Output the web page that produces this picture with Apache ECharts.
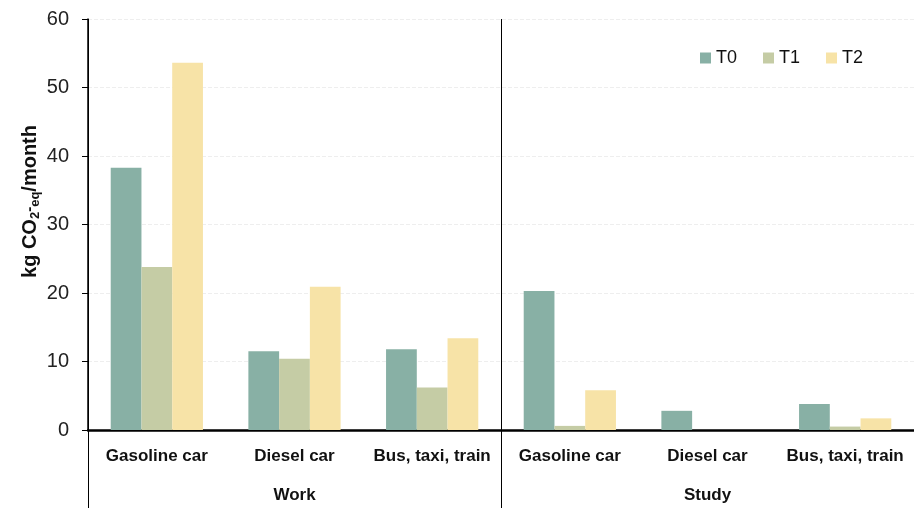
<!DOCTYPE html>
<html><head><meta charset="utf-8">
<script src="https://cdn.jsdelivr.net/npm/echarts@6/dist/echarts.min.js"></script>
<style>html,body{margin:0;padding:0;background:#fff}#c{width:914px;height:508px}</style>
</head><body><div id="c"></div>
<script>
const categories = ['Gasoline car','Diesel car','Bus, taxi, train','Gasoline car','Diesel car','Bus, taxi, train'];
const groups = ['Work','Study'];
const seriesNames = ['T0','T1','T2'];
const t0 = [38.3, 11.5, 11.8, 20.3, 2.8, 3.8];
const t1 = [23.8, 10.4, 6.2, 0.6, 0, 0.5];
const t2 = [53.6, 20.9, 13.4, 5.8, 0, 1.7];
const yTicks = {min: 0, max: 60, interval: 10};
const colors = ['#88b0a5', '#c5cca5', '#f7e3a7'];

const chart = echarts.init(document.getElementById('c'));
const font = 'Arial, "Liberation Sans", sans-serif';
const catFont = '"Liberation Sans Narrow", "Arial Narrow", Arial, sans-serif';
const mk = (name, data, i) => ({
  name, type: 'bar', data, xAxisIndex: 0, barGap: '0%', barCategoryGap: '33%',
  itemStyle: {color: colors[i]},
  animation: false
});
chart.setOption({
  animation: false,
  grid: {left: 88, right: 0, top: 19, bottom: 78},
  legend: {
    data: seriesNames, left: 695, top: 44, itemWidth: 11, itemHeight: 11, itemGap: 26,
    icon: 'rect', textStyle: {fontSize: 18, fontFamily: font, color: '#111'}
  },
  xAxis: [
    {type: 'category', data: categories, position: 'bottom',
     axisLine: {lineStyle: {color: '#000', width: 2.5}},
     axisTick: {show: false},
     axisLabel: {interval: 0, margin: 18, fontSize: 17, fontWeight: 'bold', fontFamily: catFont, color: '#111'}},
    {type: 'category', data: groups, position: 'bottom',
     axisLine: {show: false},
     axisTick: {show: true, length: 78, lineStyle: {color: '#000', width: 1}},
     splitLine: {show: true, lineStyle: {color: '#000', width: 1}},
     axisLabel: {margin: 57, fontSize: 17, fontWeight: 'bold', fontFamily: catFont, color: '#111'}}
  ],
  yAxis: {
    type: 'value', min: yTicks.min, max: yTicks.max, interval: yTicks.interval,
    name: 'kg CO{sub|2}{sup|-}{sub|eq}/month', nameLocation: 'middle', nameRotate: 90, nameGap: 46,
    nameMoveOverlap: false,
    nameTextStyle: {fontSize: 20, fontWeight: 'bold', fontFamily: font, color: '#111', padding: [0, 0, 0, 46],
      rich: {
        sub: {fontSize: 13, fontWeight: 'bold', fontFamily: font, color: '#111', padding: [10, 0, 0, 0]},
        sup: {fontSize: 15, fontWeight: 'bold', fontFamily: font, color: '#111', padding: [0, 0, 2, 0]}
      }},
    axisLine: {show: true, lineStyle: {color: '#000', width: 1.5}},
    axisTick: {show: true, length: 6, lineStyle: {color: '#000'}},
    axisLabel: {margin: 19, fontSize: 20, fontFamily: font, color: '#222'},
    splitLine: {show: true, lineStyle: {color: '#eeeeee', type: 'dashed', width: 1}}
  },
  series: [mk('T0', t0, 0), mk('T1', t1, 1), mk('T2', t2, 2)]
});
</script></body></html>
